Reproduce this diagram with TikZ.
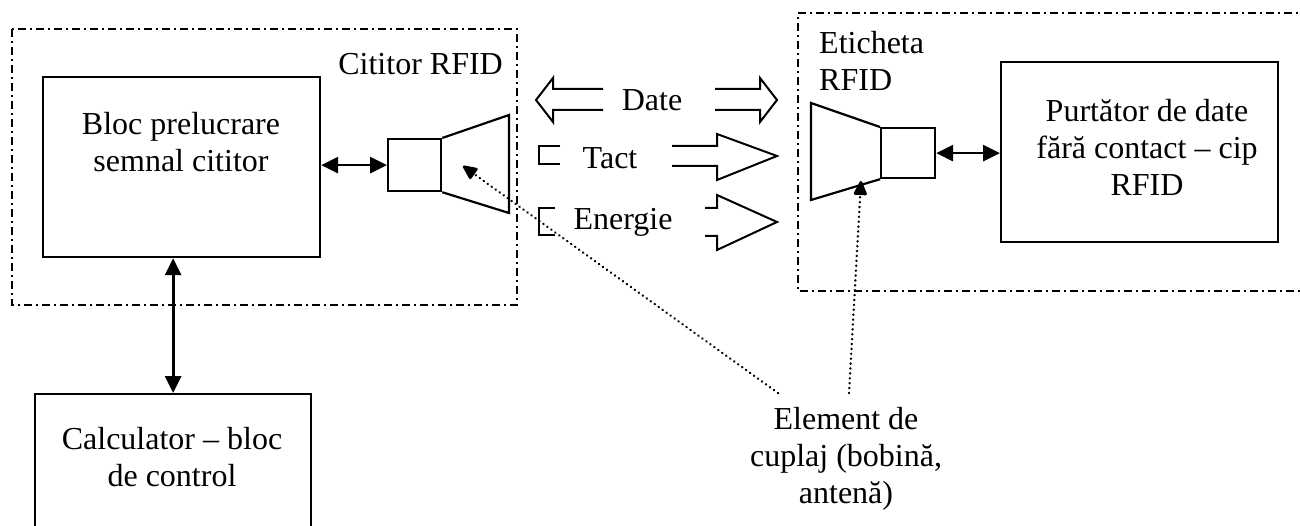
\documentclass[tikz,border=0pt]{standalone}
\usepackage{fontspec}
\setmainfont{Liberation Serif}
\usetikzlibrary{arrows.meta}
\tikzset{
  every node/.style={font=\fontsize{32}{37}\selectfont},
  box/.style={draw, line width=2.2pt, inner sep=0pt, anchor=north west},
  lbl/.style={inner sep=0pt, align=center},
  dashdotline/.style={line width=1.8pt, dash pattern=on 8pt off 4pt on 2pt off 4pt},
  solidline/.style={line width=2.2pt},
  dbl/.style={line width=2.8pt, {Triangle[length=17pt,width=16pt]}-{Triangle[length=17pt,width=16pt]}},
  dotarrow/.style={line width=2.6pt, line cap=round, dash pattern=on 0.1pt off 4.8pt, -{Triangle[length=16pt,width=14pt,round=false]}},
  hollow/.style={line width=2pt, line join=miter},
}
\begin{document}
\begin{tikzpicture}[x=1pt,y=-1pt]
\useasboundingbox (0,0) rectangle (1300,526);
\clip (0,0) rectangle (1300,526);
% reader frame
\draw[dashdotline] (12,29) rectangle (517,305);
\node[lbl, anchor=east] (readerlbl) at (503,64) {Cititor RFID};
% tag frame (open to the right)
\draw[dashdotline] (1310,13) -- (798,13) -- (798,291) -- (1310,291);
\node[lbl, anchor=west, align=left] (taglbl) at (819,61) {Eticheta\\RFID};
% reader blocks
\node[box, minimum width=277pt, minimum height=180pt] (bloc) at (42,76) {};
\node[lbl] (bloctxt) at (181,142) {Bloc prelucrare\\semnal cititor};
\node[box, minimum width=53pt, minimum height=52pt] (sq1) at (387,138) {};
\draw[solidline] (sq1.north east) -- (509,115) -- (509,213) -- (sq1.south east);
\coordinate (ant1) at (463,166);
% calculator
\node[box, minimum width=276pt, minimum height=160pt] (calc) at (34,393) {};
\node[lbl] (calctxt) at (172,457) {Calculator -- bloc\\de control};
% tag blocks
\node[box, minimum width=54pt, minimum height=50pt] (sq2) at (880,127) {};
\draw[solidline] (sq2.north west) -- (811,103) -- (811,200) -- (sq2.south west);
\coordinate (ant2) at (861,181);
\node[box, minimum width=277pt, minimum height=180pt] (purt) at (1000,61) {};
\node[lbl] (purttxt) at (1147,147) {Purtător de date\\fără contact -- cip\\RFID};
% connectors
\draw[dbl] (bloc.east |- sq1.west) -- (sq1.west);
\draw[dbl] (calc.north) -- (calc.north |- bloc.south);
\draw[dbl] (sq2.east) -- (sq2.east -| purt.west);
% signal arrows
\node[lbl] (date) at (652,100) {Date};
\node[lbl] (tact) at (610,158) {Tact};
\node[lbl] (energie) at (623,222) {Energie};
\draw[hollow] (603,89) -- (553,89) -- (553,78) -- (536,100) -- (553,122) -- (553,110) -- (603,110);
\draw[hollow] (715,89) -- (760,89) -- (760,78) -- (777,100) -- (760,122) -- (760,110) -- (715,110);
\draw[hollow] (560,146) -- (539,146) -- (539,164) -- (560,164);
\draw[hollow] (672,146) -- (717,146) -- (717,134) -- (777,156) -- (717,180) -- (717,166) -- (672,166);
\draw[hollow] (555,208) -- (539,208) -- (539,235) -- (555,235);
\draw[hollow] (705,208) -- (717,208) -- (717,195) -- (777,222) -- (717,250) -- (717,236) -- (705,236);
% coupling element label
\node[lbl] (elem) at (846,459) {Element de\\cuplaj (bobină,\\antenă)};
\coordinate (e1) at (778,393);
\coordinate (e2) at (849,393);
\draw[dotarrow] (e1) -- (ant1);
\draw[dotarrow] (e2) -- (ant2);
\end{tikzpicture}
\end{document}
